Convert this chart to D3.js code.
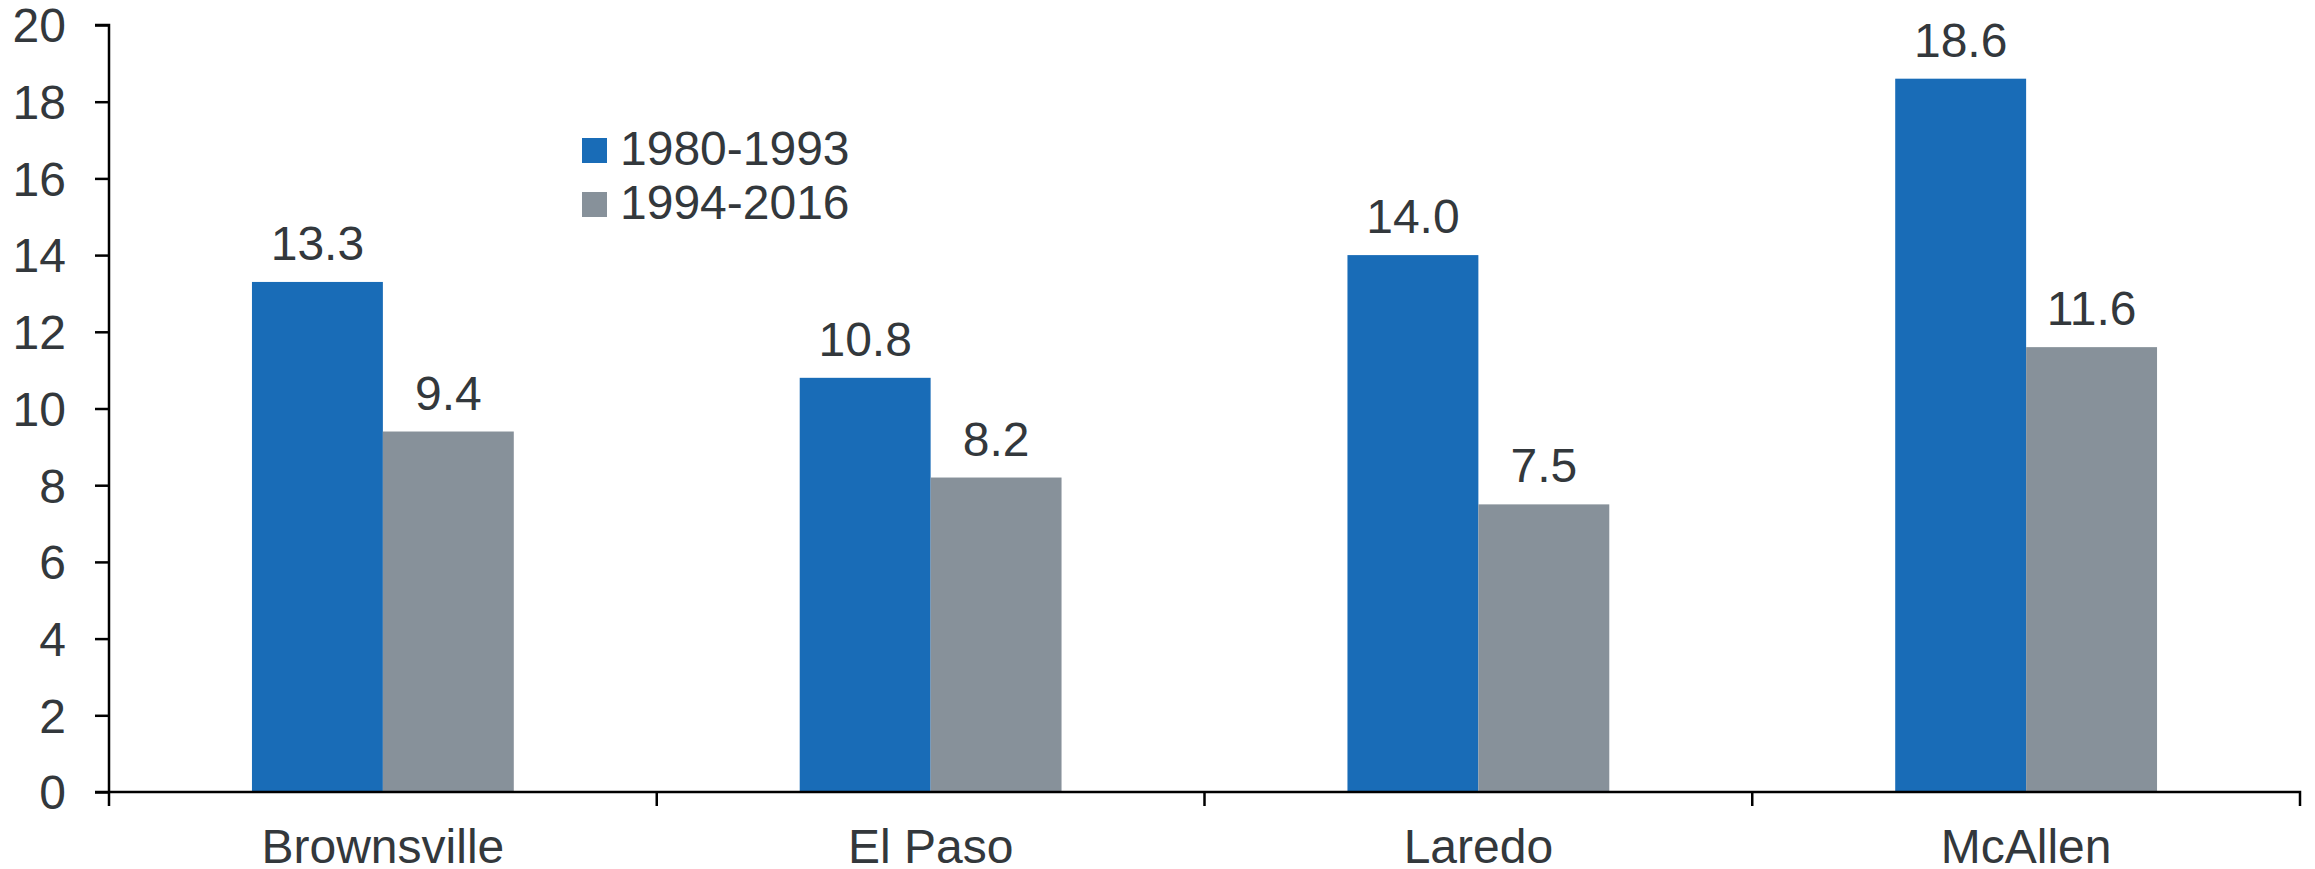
<!DOCTYPE html>
<html>
<head>
<meta charset="utf-8">
<script src="https://cdn.jsdelivr.net/npm/d3@7"></script>
<style>
  html, body { margin: 0; padding: 0; background: #fff; }
  svg { display: block; }
  text { font-family: "Liberation Sans", Arial, sans-serif; fill: #33383c; }
</style>
</head>
<body>
<svg id="chart" width="2315" height="869"></svg>
<script>
// Chart data
const cities = ["Brownsville", "El Paso", "Laredo", "McAllen"];
const series = ["1980-1993", "1994-2016"];
const values1980 = [13.3, 10.8, 14.0, 18.6];
const values1994 = [9.4, 8.2, 7.5, 11.6];
const yTicks = [0, 2, 4, 6, 8, 10, 12, 14, 16, 18, 20];
const colors = ["#196cb7", "#87919a"];

const svg = d3.select("#chart");
const plotLeft = 109, plotRight = 2300, plotTop = 25, plotBottom = 792;
const fontSize = 48;

const x = d3.scaleBand().domain(cities).range([plotLeft, plotRight]).paddingInner(0).paddingOuter(0);
const y = d3.scaleLinear().domain([0, 20]).range([plotBottom, plotTop]);

// bars sit centred in each band, taking ~48% of its width
const groupWidth = x.bandwidth() * 0.478;
const xs = d3.scaleBand().domain(series).range([0, groupWidth]);

const rows = cities.map((c, i) => ({ city: c, vals: [values1980[i], values1994[i]] }));

const g = svg.append("g");
rows.forEach(r => {
  r.vals.forEach((v, j) => {
    const bx = x(r.city) + (x.bandwidth() - groupWidth) / 2 + xs(series[j]);
    g.append("rect")
      .attr("x", bx)
      .attr("y", y(v))
      .attr("width", xs.bandwidth())
      .attr("height", y(0) - y(v))
      .attr("fill", colors[j]);
    g.append("text")
      .attr("x", bx + xs.bandwidth() / 2)
      .attr("y", y(v) - 22)
      .attr("text-anchor", "middle")
      .attr("font-size", fontSize)
      .text(v.toFixed(1));
  });
});

// y axis
const yAxis = d3.axisLeft(y).tickValues(yTicks).tickSize(14).tickPadding(29).tickFormat(d3.format("d"));
const ya = svg.append("g").attr("transform", `translate(${plotLeft},0)`).call(yAxis);
ya.select(".domain").attr("stroke", "#000").attr("stroke-width", 2.5).attr("d", `M-14,${plotTop}H0V${plotBottom + 14}`);
ya.selectAll(".tick line").attr("stroke", "#000").attr("stroke-width", 2.5);
ya.selectAll(".tick text").attr("font-size", fontSize).attr("font-family", "Liberation Sans, Arial, sans-serif").attr("fill", "#33383c").attr("dy", "0.35em");

// x axis with ticks at category boundaries
const xa = svg.append("g").attr("transform", `translate(0,${plotBottom})`);
xa.append("path")
  .attr("d", `M${plotLeft - 14},0H${plotRight}V14`)
  .attr("fill", "none").attr("stroke", "#000").attr("stroke-width", 2.5);
cities.slice(1).forEach(c => {
  xa.append("line").attr("x1", x(c)).attr("x2", x(c)).attr("y1", 0).attr("y2", 14)
    .attr("stroke", "#000").attr("stroke-width", 2.5);
});
cities.forEach(c => {
  xa.append("text")
    .attr("x", x(c) + x.bandwidth() / 2)
    .attr("y", 71)
    .attr("text-anchor", "middle")
    .attr("font-size", fontSize)
    .text(c);
});

// legend
const legend = svg.append("g").attr("transform", "translate(582,138)");
series.forEach((s, i) => {
  const row = legend.append("g").attr("transform", `translate(0,${i * 54})`);
  row.append("rect").attr("width", 25).attr("height", 25).attr("fill", colors[i]);
  row.append("text").attr("x", 38).attr("y", 27).attr("font-size", fontSize).text(s);
});
</script>
</body>
</html>
